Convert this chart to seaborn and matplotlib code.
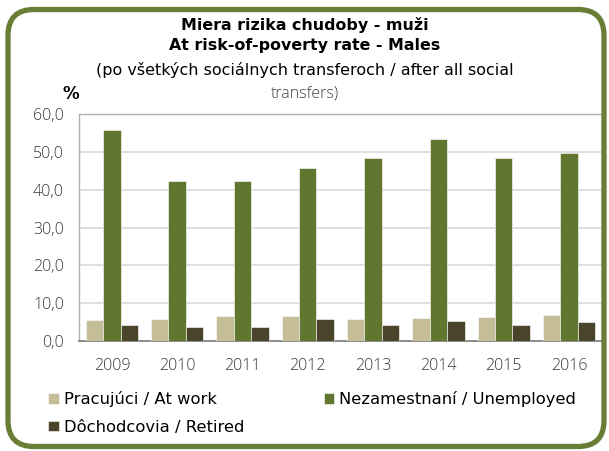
import pandas as pd
import numpy as np
import matplotlib.pyplot as plt
import seaborn as sns
from matplotlib.patches import FancyBboxPatch
from matplotlib.ticker import FuncFormatter

sns.set_style('white')
plt.rcParams['font.family'] = ['DejaVu Sans']
plt.rcParams['text.color'] = 'black'

# Values
years = ['2009', '2010', '2011', '2012', '2013', '2014', '2015', '2016']
at_work = [5.6, 5.8, 6.6, 6.5, 5.8, 6.1, 6.4, 6.8]
unemployed = [55.7, 42.2, 42.2, 45.8, 48.5, 53.5, 48.5, 49.7]
retired = [4.2, 3.8, 3.6, 5.7, 4.3, 5.3, 4.3, 4.9]
labels = ['Pracujúci / At work', 'Nezamestnaní / Unemployed', 'Dôchodcovia / Retired']
colors = ['#c4bd97', '#617730', '#4a442a']

df = pd.DataFrame({'year': years * 3,
                   'group': np.repeat(labels, len(years)),
                   'value': at_work + unemployed + retired})

fig = plt.figure(figsize=(6.09, 4.51), dpi=100)
ax = fig.add_axes([0.130, 0.244, 0.858, 0.503])

sns.barplot(data=df, x='year', y='value', hue='group', hue_order=labels,
            palette=dict(zip(labels, colors)), saturation=1, width=0.8, ax=ax,
            edgecolor='white', linewidth=0.4, zorder=3)

ax.set_ylim(0, 60)
ax.set_yticks(np.arange(0, 61, 10))
ax.yaxis.set_major_formatter(FuncFormatter(lambda v, p: f'{v:.1f}'.replace('.', ',')))
ax.yaxis.grid(True, color='#d9d9d9', linewidth=1.2, zorder=0)
ax.set_axisbelow(True)
ax.set_xlabel('')
ax.set_ylabel('')
for side in ['top', 'right', 'left']:
    ax.spines[side].set_color('#b0b0b0')
    ax.spines[side].set_linewidth(1.0)
ax.spines['bottom'].set_color('#8c8c8c')
ax.spines['bottom'].set_linewidth(1.4)
ax.tick_params(axis='both', length=0, labelsize=11.5, labelcolor='#383838')
ax.tick_params(axis='x', pad=12)
ax.tick_params(axis='y', pad=11)
for t in ax.get_xticklabels() + ax.get_yticklabels():
    t.set_fontfamily(['Open Sans', 'DejaVu Sans'])
    t.set_fontweight('light')

# legend: row 1 = at work, unemployed ; row 2 = retired
h, l = ax.get_legend_handles_labels()
order = [0, 2, 1]
fig.legend([h[i] for i in order], [l[i] for i in order], ncol=2,
           loc='upper left', bbox_to_anchor=(0.079, 0.132), frameon=False,
           fontsize=11.8, handlelength=0.65, handleheight=0.65, handletextpad=0.3,
           columnspacing=4.85, labelspacing=0.75, borderaxespad=0, borderpad=0)
ax.get_legend().remove()

# titles
fig.text(0.5, 0.945, 'Miera rizika chudoby - muži', ha='center', va='center',
         fontsize=11.4, fontweight='bold')
fig.text(0.5, 0.900, 'At risk-of-poverty rate - Males', ha='center', va='center',
         fontsize=11.4, fontweight='bold')
fig.text(0.5, 0.845, '(po všetkých sociálnych transferoch / after all social',
         ha='center', va='center', fontsize=11.5)
fig.text(0.5, 0.792, 'transfers)', ha='center', va='center', fontsize=11.5,
         color='#404040', fontfamily=['Open Sans', 'DejaVu Sans'], fontweight='light')
fig.text(0.117, 0.792, '%', ha='center', va='center', fontsize=12, fontweight='bold')

# rounded green frame
frame = FancyBboxPatch((0.08, 0.045), 5.96, 4.37,
                       boxstyle='round,pad=0,rounding_size=0.26',
                       transform=fig.dpi_scale_trans, facecolor='none',
                       edgecolor='#6a7d34', linewidth=3.8, zorder=10)
fig.patches.append(frame)

fig.savefig('out.png', dpi=100)
